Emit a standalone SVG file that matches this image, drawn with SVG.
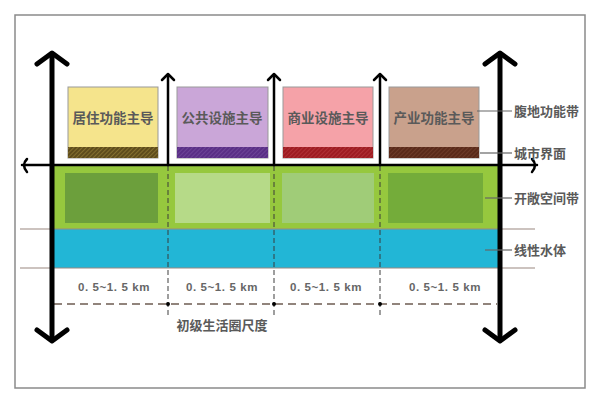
<svg xmlns="http://www.w3.org/2000/svg" width="600" height="402" viewBox="0 0 600 402">
<style>
.t{font-family:"Noto Sans CJK SC","Liberation Sans",sans-serif;fill:#5a5a5a;font-weight:bold;}
.bx{font-size:13.5px;text-anchor:middle;}
.lb{font-size:13px;}
.km{font-family:"Liberation Sans","Noto Sans CJK SC",sans-serif;font-size:11.5px;fill:#666;text-anchor:middle;font-weight:bold;letter-spacing:0.6px;}
.big{stroke:#000;stroke-width:5;fill:none;stroke-linecap:round;stroke-linejoin:round;}
.sm{stroke:#000;stroke-width:2.5;fill:none;stroke-linecap:round;stroke-linejoin:round;}
.lead{stroke:#666;stroke-width:1.2;}
.vd{stroke:#3a3a3a;stroke-width:1.3;stroke-dasharray:5 3;opacity:0.75;}
.box{stroke:#999;stroke-width:1;}
</style>
<defs>
<pattern id="h1" width="3" height="3" patternUnits="userSpaceOnUse" patternTransform="rotate(45)"><rect width="3" height="3" fill="#5e4c1c"/><line x1="0" y1="0" x2="0" y2="3" stroke="#a89040" stroke-width="1"/></pattern>
<pattern id="h2" width="3" height="3" patternUnits="userSpaceOnUse" patternTransform="rotate(45)"><rect width="3" height="3" fill="#5a2f86"/><line x1="0" y1="0" x2="0" y2="3" stroke="#7d56a6" stroke-width="1"/></pattern>
<pattern id="h3" width="3" height="3" patternUnits="userSpaceOnUse" patternTransform="rotate(45)"><rect width="3" height="3" fill="#9e1c22"/><line x1="0" y1="0" x2="0" y2="3" stroke="#c04448" stroke-width="1"/></pattern>
<pattern id="h4" width="3" height="3" patternUnits="userSpaceOnUse" patternTransform="rotate(45)"><rect width="3" height="3" fill="#5a2a1a"/><line x1="0" y1="0" x2="0" y2="3" stroke="#7e4a36" stroke-width="1"/></pattern>
</defs>
<rect x="15" y="15" width="570" height="373" fill="#fff" stroke="#8a8a8a" stroke-width="1.5"/>

<g id="bands">
<rect x="52" y="165" width="448" height="64" fill="#96c83e"/>
<rect x="65" y="173" width="93" height="50" fill="#6c9f3c"/>
<rect x="175" y="173" width="95" height="50" fill="#b6da88"/>
<rect x="282" y="173" width="92" height="50" fill="#a0cc78"/>
<rect x="388" y="173" width="95" height="50" fill="#74ac3a"/>
<rect x="52" y="229" width="448" height="39" fill="#22b6d6"/>
<line x1="20" y1="229" x2="535" y2="229" stroke="#9a8880" stroke-width="1.2"/>
<line x1="20" y1="268" x2="535" y2="268" stroke="#9a8880" stroke-width="1.2"/>
</g>

<g id="node-1">
<rect class="box" x="68" y="87" width="90" height="71" fill="#f5e48c"/>
<rect x="68" y="147" width="90" height="11" fill="url(#h1)"/>
<text class="t bx" x="113" y="123">居住功能主导</text>
</g>
<g id="node-2">
<rect class="box" x="177" y="87" width="91" height="71" fill="#caa6d8"/>
<rect x="177" y="147" width="91" height="11" fill="url(#h2)"/>
<text class="t bx" x="222" y="123">公共设施主导</text>
</g>
<g id="node-3">
<rect class="box" x="283" y="87" width="90" height="71" fill="#f5a2a8"/>
<rect x="283" y="147" width="90" height="11" fill="url(#h3)"/>
<text class="t bx" x="328" y="123">商业设施主导</text>
</g>
<g id="node-4">
<rect class="box" x="389" y="87" width="90" height="71" fill="#c9a18c"/>
<rect x="389" y="147" width="90" height="11" fill="url(#h4)"/>
<text class="t bx" x="434" y="123">产业功能主导</text>
</g>

<g id="connectors">
<line class="vd" x1="168" y1="166" x2="168" y2="316"/>
<line class="vd" x1="274" y1="166" x2="274" y2="316"/>
<line class="vd" x1="380" y1="166" x2="380" y2="316"/>
<line x1="54" y1="304" x2="497" y2="304" stroke="#6e5c52" stroke-width="1.3" stroke-dasharray="8 5"/>
<circle cx="168" cy="304" r="2" fill="#000"/>
<circle cx="274" cy="304" r="2" fill="#000"/>
<circle cx="380" cy="304" r="2" fill="#000"/>

<line class="sm" x1="22" y1="165" x2="537" y2="165"/>
<path class="sm" d="M27 159 Q21 165 27 172"/>
<path class="sm" d="M532 159 Q538 165 532 172"/>

<line class="sm" x1="168" y1="75" x2="168" y2="165"/>
<path class="sm" d="M162 80 L168 74 L174 80"/>
<line class="sm" x1="274" y1="75" x2="274" y2="165"/>
<path class="sm" d="M268 80 L274 74 L280 80"/>
<line class="sm" x1="380" y1="75" x2="380" y2="165"/>
<path class="sm" d="M374 80 L380 74 L386 80"/>

<line class="big" x1="52" y1="54" x2="52" y2="340"/>
<path class="big" d="M37 64 L52 53 L67 64"/>
<path class="big" d="M37 330 L52 341 L67 330"/>
<line class="big" x1="500" y1="54" x2="500" y2="340"/>
<path class="big" d="M485 64 L500 53 L515 64"/>
<path class="big" d="M485 330 L500 341 L515 330"/>

<line class="lead" x1="477" y1="111" x2="512" y2="111"/>
<line class="lead" x1="480" y1="153" x2="512" y2="153"/>
<line class="lead" x1="485" y1="198" x2="512" y2="198"/>
<line class="lead" x1="485" y1="250" x2="512" y2="250"/>
</g>

<g id="labels">
<text class="t lb" x="514" y="116">腹地功能带</text>
<text class="t lb" x="514" y="158">城市界面</text>
<text class="t lb" x="514" y="203">开敞空间带</text>
<text class="t lb" x="514" y="255">线性水体</text>
<text class="km" x="114" y="291">0. 5~1. 5 km</text>
<text class="km" x="222" y="291">0. 5~1. 5 km</text>
<text class="km" x="326" y="291">0. 5~1. 5 km</text>
<text class="km" x="445" y="291">0. 5~1. 5 km</text>
<text class="t lb" x="222" y="330" text-anchor="middle">初级生活圈尺度</text>
</g>
</svg>
